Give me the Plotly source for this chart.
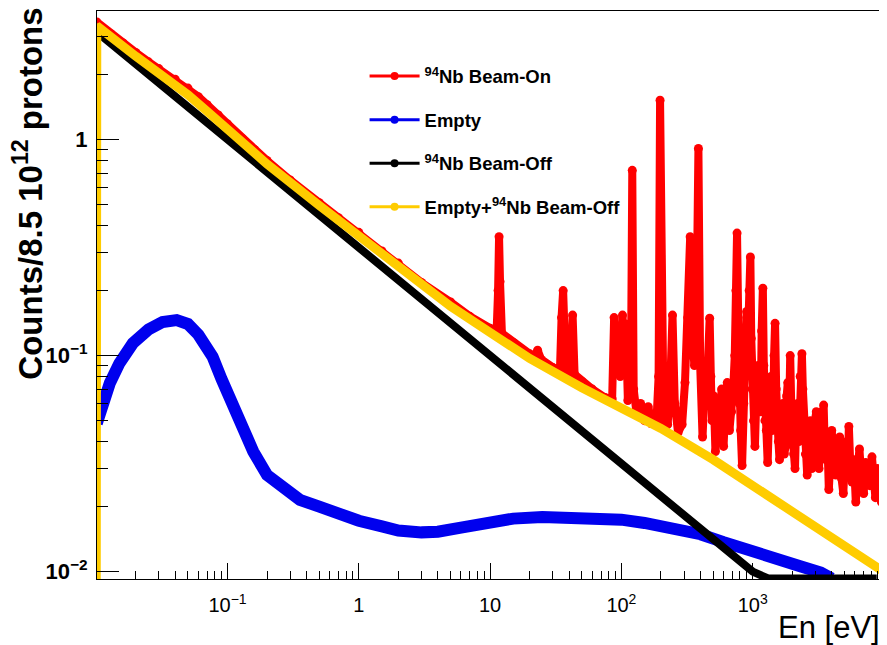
import plotly.graph_objects as go

# ---------------- data ----------------
red_E = [0.0101, 0.013, 0.016, 0.02, 0.025, 0.03, 0.04, 0.05, 0.06, 0.07,
         0.085, 0.1, 0.13, 0.16, 0.2, 0.3, 0.5, 0.7, 1, 1.5,
         2, 3, 5, 7, 10, 11.2, 11.5, 11.7, 11.9, 12.3,
         15, 20, 22, 23, 24.5, 30, 34, 35, 36, 37,
         39, 41.5, 42.5, 44, 50, 60, 75, 85, 88, 91,
         95, 98, 102, 105, 108, 112, 118, 121, 124, 130,
         140, 150, 160, 170, 185, 192, 197, 202, 210, 225,
         235, 245, 255, 270, 290, 305, 320, 334, 345, 360,
         375, 386, 398, 415, 430, 440, 455, 470, 480, 490,
         505, 520, 540, 560, 580, 600, 620, 640, 665, 690,
         710, 730, 745, 760, 775, 790, 810, 830, 855, 880,
         900, 920, 940, 960, 975, 990, 1015, 1040, 1070, 1100,
         1125, 1150, 1170, 1195, 1215, 1240, 1270, 1300, 1340, 1380,
         1405, 1430, 1455, 1480, 1510, 1540, 1570, 1600, 1650, 1700,
         1740, 1780, 1815, 1850, 1890, 1930, 1965, 2000, 2050, 2100,
         2150, 2200, 2250, 2300, 2335, 2370, 2410, 2450, 2520, 2600,
         2680, 2750, 2820, 2900, 2980, 3050, 3120, 3200, 3280, 3350,
         3410, 3470, 3530, 3600, 3700, 3800, 3900, 4000, 4150, 4300,
         4450, 4600, 4750, 4900, 5050, 5200, 5300, 5400, 5550, 5700,
         5900, 6100, 6300, 6500, 6750, 7000, 7250, 7500, 7800, 8100,
         8350, 8600, 8900, 9200, 9550, 9900]
red_y = [3.50, 3.08, 2.80, 2.53, 2.29, 2.13, 1.90, 1.73, 1.58, 1.45,
         1.30, 1.18, 1.01, 0.90, 0.80, 0.65, 0.51, 0.435, 0.372, 0.305,
         0.268, 0.218, 0.177, 0.152, 0.134, 0.128, 0.20, 0.355, 0.22, 0.127,
         0.115, 0.102, 0.099, 0.106, 0.096, 0.088, 0.084, 0.15, 0.20, 0.12,
         0.083, 0.10, 0.154, 0.082, 0.076, 0.070, 0.064, 0.063, 0.15, 0.09,
         0.12, 0.08, 0.154, 0.09, 0.14, 0.062, 0.07, 0.72, 0.07, 0.055,
         0.06, 0.05, 0.058, 0.049, 0.05, 0.08, 1.52, 0.08, 0.046, 0.048,
         0.07, 0.154, 0.06, 0.044, 0.048, 0.075, 0.15, 0.355, 0.12, 0.09,
         0.2, 0.91, 0.09, 0.042, 0.07, 0.06, 0.09, 0.149, 0.08, 0.05,
         0.065, 0.036, 0.06, 0.05, 0.07, 0.038, 0.06, 0.075, 0.045, 0.055,
         0.07, 0.1, 0.2, 0.369, 0.15, 0.06, 0.045, 0.031, 0.06, 0.08,
         0.16, 0.12, 0.2, 0.286, 0.12, 0.07, 0.05, 0.038, 0.07, 0.09,
         0.06, 0.055, 0.13, 0.205, 0.09, 0.05, 0.045, 0.032, 0.06, 0.08,
         0.045, 0.05, 0.1, 0.141, 0.07, 0.06, 0.04, 0.033, 0.05, 0.06,
         0.035, 0.038, 0.065, 0.075, 0.05, 0.10, 0.06, 0.045, 0.035, 0.03,
         0.055, 0.06, 0.04, 0.08, 0.06, 0.102, 0.07, 0.05, 0.035, 0.028,
         0.045, 0.05, 0.03, 0.033, 0.05, 0.055, 0.035, 0.03, 0.045, 0.055,
         0.04, 0.059, 0.04, 0.033, 0.042, 0.024, 0.038, 0.045, 0.03, 0.028,
         0.038, 0.042, 0.027, 0.023, 0.035, 0.04, 0.03, 0.047, 0.03, 0.026,
         0.033, 0.021, 0.03, 0.037, 0.026, 0.023, 0.032, 0.03, 0.025, 0.034,
         0.027, 0.022, 0.03, 0.028, 0.021, 0.024]

blue_E = [0.0101, 0.011, 0.0127, 0.015, 0.019, 0.025, 0.032, 0.041, 0.05, 0.06,
          0.077, 0.09, 0.105, 0.12, 0.14, 0.157, 0.2, 0.25, 0.3, 0.356,
          0.5, 0.7, 1, 1.5, 2, 3, 4, 6, 10, 15,
          25, 40, 60, 100, 150, 250, 400, 600, 1000, 1600,
          2300, 3300, 4000]
blue_y = [0.0486, 0.058, 0.0746, 0.092, 0.114, 0.132, 0.143, 0.146, 0.140, 0.125,
          0.0987, 0.078, 0.062, 0.050, 0.041, 0.036, 0.028, 0.025, 0.023, 0.0215,
          0.0200, 0.0185, 0.0172, 0.0162, 0.0155, 0.0152, 0.0153, 0.0160, 0.0170, 0.0176,
          0.0179, 0.0179, 0.0177, 0.0174, 0.0168, 0.0160, 0.0149, 0.0137, 0.0123, 0.0114,
          0.0106, 0.0099, 0.0093]

black_E = [0.0101, 0.1, 1, 10, 100, 1000, 1310, 8800]
black_y = [3.15, 1.0, 0.316, 0.100, 0.0316, 0.0100, 0.0093, 0.0093]

yellow_E = [0.0100, 0.0101, 0.02, 0.03, 0.04, 0.05, 0.07, 0.1, 0.2, 0.5,
            1, 2, 5, 10, 20, 50, 100, 200, 500, 1000,
            2000, 5000, 9900]
yellow_y = [0.005, 3.36, 2.43, 2.03, 1.79, 1.61, 1.35, 1.11, 0.77, 0.495,
            0.36, 0.26, 0.169, 0.128, 0.097, 0.071, 0.0574, 0.046, 0.033, 0.025,
            0.019, 0.0135, 0.0100]

series_names = ["<sup>94</sup>Nb Beam-On", "Empty", "<sup>94</sup>Nb Beam-Off",
                "Empty+<sup>94</sup>Nb Beam-Off"]
series_colors = ["#FF0000", "#0000EE", "#000000", "#FFCC00"]

x_tickvals = [0.1, 1, 10, 100, 1000]
x_ticktext = ["10<sup>\u22121</sup>", "1", "10", "10<sup>2</sup>", "10<sup>3</sup>"]
y_tickvals = [0.01, 0.1, 1]
y_ticktext = ["10<sup>\u22122</sup>", "10<sup>\u22121</sup>", "1"]

# ---------------- figure ----------------
FONT = "Liberation Sans, Arial, Helvetica, sans-serif"
fig = go.Figure()

data = [(red_E, red_y), (blue_E, blue_y), (black_E, black_y), (yellow_E, yellow_y)]
widths = [8, 12, 8, 9]
for (xs, ys), col, w in zip(data, series_colors, widths):
    fig.add_trace(go.Scatter(
        x=xs, y=ys, mode="lines+markers" if col == "#FF0000" else "lines",
        line=dict(color=col, width=w), marker=dict(color=col, size=9),
        showlegend=False, hoverinfo="skip"))

for i, (name, col) in enumerate(zip(series_names, series_colors)):
    fig.add_trace(go.Scatter(
        x=[None], y=[None], mode="lines+markers", name=name,
        legendgroup=f"g{i}", line=dict(color=col, width=3),
        marker=dict(color=col, size=8)))

minor_x = [k * 10 ** d for d in range(-2, 4) for k in range(2, 10) if k * 10 ** d < 1e4]
minor_y = [k * 10 ** d for d in range(-2, 1) for k in range(2, 10) if k * 10 ** d < 3.9]

axis_common = dict(type="log", showline=True, linecolor="black", linewidth=1,
                   mirror=True, ticks="inside", tickcolor="black", tickwidth=1,
                   showgrid=False, zeroline=False, tickmode="array", automargin=False)

fig.update_xaxes(**axis_common, range=[-1.994, 4.0], ticklen=16,
                 tickvals=x_tickvals, ticktext=x_ticktext,
                 tickfont=dict(family=FONT, size=20, color="black"),
                 ticklabelstandoff=8,
                 minor=dict(tickmode="array", tickvals=minor_x, ticks="inside",
                            ticklen=8, tickcolor="black", tickwidth=1, showgrid=False))
fig.update_yaxes(**axis_common, range=[-2.034, 0.595], ticklen=22,
                 tickvals=y_tickvals, ticktext=y_ticktext,
                 tickfont=dict(family=FONT, size=22, color="black", weight="bold"),
                 ticklabelstandoff=4,
                 minor=dict(tickmode="array", tickvals=minor_y, ticks="inside",
                            ticklen=11, tickcolor="black", tickwidth=1, showgrid=False))

fig.add_annotation(text="Counts/8.5 10<sup>12</sup> protons", textangle=-90,
                   xref="paper", yref="paper", x=-0.088, y=0.678,
                   xanchor="center", yanchor="middle", showarrow=False,
                   font=dict(family=FONT, size=33, color="black", weight="bold"))
fig.add_annotation(text="En [eV]", xref="paper", yref="paper", x=0.998, y=-0.086,
                   xanchor="right", yanchor="middle", showarrow=False,
                   font=dict(family=FONT, size=31, color="black"))

# The page body adds an 8 px offset, so the figure is 8 px smaller than the window.
fig.update_layout(
    width=879, height=637,
    margin=dict(l=89, r=3, t=3, b=66, autoexpand=False),
    plot_bgcolor="white", paper_bgcolor="white",
    legend=dict(x=0.34, y=0.918, xanchor="left", yanchor="top",
                bgcolor="rgba(0,0,0,0)", tracegroupgap=16.5, itemwidth=50,
                font=dict(family=FONT, size=18.5, color="black", weight="bold")),
)

fig.write_html("out.html")
